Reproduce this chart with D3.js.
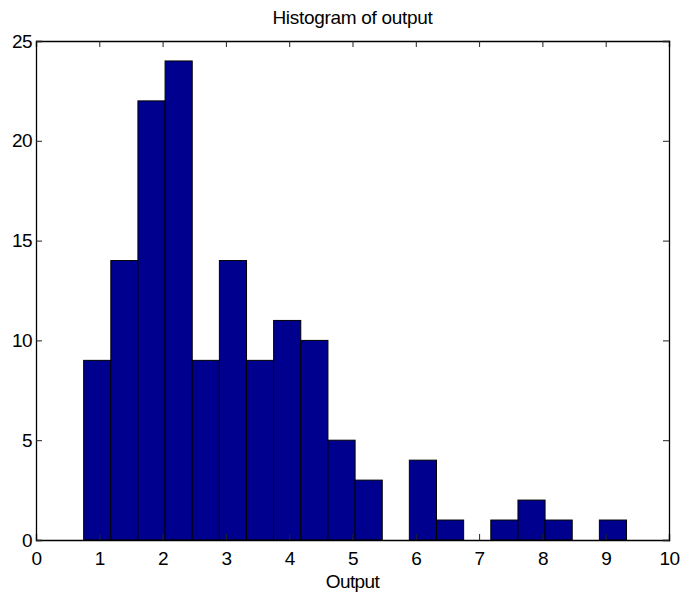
<!DOCTYPE html>
<html lang="en">
<head>
<meta charset="UTF-8">
<title>Histogram of output</title>
<script src="https://cdnjs.cloudflare.com/ajax/libs/d3/7.9.0/d3.min.js"></script>
<style>
  body{margin:0;background:#fff;}
  svg{display:block;font-family:"Liberation Sans",Arial,Helvetica,sans-serif;}
  .tick text{font-size:19px;fill:#000;}
</style>
</head>
<body>
<div id="chart"></div>
<script>
/* ---------- data ---------- */
const binEdges = [0.753,1.182,1.610,2.039,2.468,2.897,3.326,3.754,4.183,4.612,5.041,
                  5.470,5.898,6.327,6.756,7.185,7.614,8.042,8.471,8.900,9.329];
const counts   = [9,14,22,24,9,14,9,11,10,5,3,0,4,1,0,1,2,1,0,1];
const xTicks   = [0,1,2,3,4,5,6,7,8,9,10];
const yTicks   = [0,5,10,15,20,25];

const W = 684, H = 596;
const m = {top:41, right:15, bottom:56, left:36};

const svg = d3.select("#chart").append("svg")
    .attr("width",W).attr("height",H);

const x = d3.scaleLinear().domain([0,10]).range([m.left, W-m.right]);
const y = d3.scaleLinear().domain([0,25]).range([H-m.bottom, m.top]);

// bars
const bins = counts.map((c,i)=>({x0:binEdges[i], x1:binEdges[i+1], n:c}));
svg.append("g").selectAll("rect")
  .data(bins.filter(d=>d.n>0))
  .enter().append("rect")
    .attr("x",d=>x(d.x0))
    .attr("y",d=>y(d.n))
    .attr("width",d=>x(d.x1)-x(d.x0))
    .attr("height",d=>y(0)-y(d.n))
    .attr("fill","#00008f")
    .attr("stroke","#000").attr("stroke-width",1);

// axes, MATLAB style: ticks inside, on all four sides
const tl = 6;
const axBottom = svg.append("g").attr("transform",`translate(0,${y(0)})`)
  .call(d3.axisBottom(x).tickValues(xTicks).tickSize(-tl).tickPadding(12));
const axTop = svg.append("g").attr("transform",`translate(0,${y(25)})`)
  .call(d3.axisTop(x).tickValues(xTicks).tickSize(-tl).tickFormat(""));
const axLeft = svg.append("g").attr("transform",`translate(${x(0)},0)`)
  .call(d3.axisLeft(y).tickValues(yTicks).tickSize(-tl).tickPadding(4));
const axRight = svg.append("g").attr("transform",`translate(${x(10)},0)`)
  .call(d3.axisRight(y).tickValues(yTicks).tickSize(-tl).tickFormat(""));

[axBottom,axTop,axLeft,axRight].forEach(g=>{
  g.select(".domain").attr("stroke","#000").attr("stroke-width",1.3);
  g.selectAll(".tick line").attr("stroke","#222");
  g.selectAll(".tick text").attr("letter-spacing","-0.6px");
});

// labels
svg.append("text")
  .attr("x",(x(0)+x(10))/2).attr("y",24)
  .attr("text-anchor","middle").attr("font-size",19).attr("letter-spacing","-0.3px")
  .text("Histogram of output");

svg.append("text")
  .attr("x",(x(0)+x(10))/2).attr("y",588)
  .attr("text-anchor","middle").attr("font-size",19).attr("letter-spacing","-0.6px")
  .text("Output");
</script>
</body>
</html>
